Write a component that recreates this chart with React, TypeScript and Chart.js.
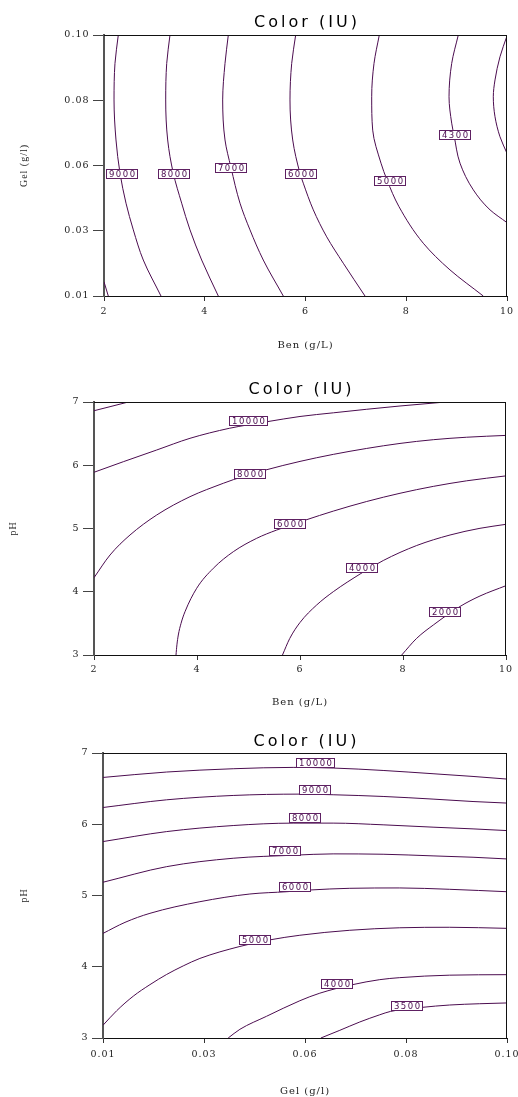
import React, { useEffect, useRef } from 'react';
import { Chart, registerables } from 'chart.js';

Chart.register(...registerables);

// ---------------- shared text ----------------
const TITLE = 'Color (IU)';
const LINE_COLOR = '#4b0c4f';
const LABEL_BORDER = '#5e2062';

// ---------------- Panel 1: Ben (g/L) x Gel (g/l) ----------------
const P1_X_TICKS = [2, 4, 6, 8, 10];
const P1_X_TICK_LABELS = ['2', '4', '6', '8', '10'];
const P1_Y_TICKS = [0.01, 0.0325, 0.055, 0.0775, 0.1];
const P1_Y_TICK_LABELS = ['0.01', '0.03', '0.06', '0.08', '0.10'];

const P1_C10000_X = [2.0, 2.085];
const P1_C10000_Y = [0.0149, 0.01];
const P1_C9000_X = [2.284, 2.218, 2.199, 2.238, 2.318, 2.437, 2.582, 2.78, 3.131];
const P1_C9000_Y = [0.1, 0.0902, 0.0776, 0.0638, 0.0523, 0.042, 0.0328, 0.0224, 0.01];
const P1_C8000_X = [3.31, 3.245, 3.225, 3.264, 3.376, 3.542, 3.707, 3.939, 4.269];
const P1_C8000_Y = [0.1, 0.0902, 0.0776, 0.0638, 0.0523, 0.042, 0.0328, 0.0224, 0.01];
const P1_C7000_X = [4.468, 4.402, 4.356, 4.402, 4.521, 4.7, 4.898, 5.162, 5.559];
const P1_C7000_Y = [0.1, 0.0902, 0.0776, 0.0638, 0.0543, 0.042, 0.0328, 0.0224, 0.01];
const P1_C6000_X = [5.805, 5.726, 5.692, 5.746, 5.891, 5.956, 6.155, 6.421, 6.75, 7.181];
const P1_C6000_Y = [0.1, 0.0902, 0.0776, 0.0638, 0.0523, 0.0489, 0.0397, 0.0304, 0.0213, 0.01];
const P1_C5000_X = [7.465, 7.36, 7.314, 7.334, 7.499, 7.618, 7.856, 8.338, 8.868, 9.529];
const P1_C5000_Y = [0.1, 0.0902, 0.0787, 0.0672, 0.0558, 0.05, 0.0408, 0.0282, 0.019, 0.01];
const P1_C4300_X = [9.033, 8.902, 8.849, 8.902, 8.948, 9.067, 9.331, 9.663, 10.0];
const P1_C4300_Y = [0.1, 0.0902, 0.0787, 0.0696, 0.0655, 0.0558, 0.0466, 0.0397, 0.0353];
const P1_C4000_X = [10.0, 9.861, 9.762, 9.728, 9.762, 9.861, 10.0];
const P1_C4000_Y = [0.0997, 0.0925, 0.0845, 0.0787, 0.0718, 0.0649, 0.0592];

const P1_LABEL_TEXT = ['9000', '8000', '7000', '6000', '5000', '4300'];
const P1_LABEL_X = [2.343, 3.376, 4.517, 5.907, 7.664, 8.954];
const P1_LABEL_Y = [0.0521, 0.0521, 0.0543, 0.0521, 0.0499, 0.0656];

// ---------------- Panel 2: Ben (g/L) x pH ----------------
const P2_X_TICKS = [2, 4, 6, 8, 10];
const P2_X_TICK_LABELS = ['2', '4', '6', '8', '10'];
const P2_Y_TICKS = [3, 4, 5, 6, 7];
const P2_Y_TICK_LABELS = ['3', '4', '5', '6', '7'];

const P2_C12000_X = [2.0, 2.311, 2.666];
const P2_C12000_Y = [6.862, 6.926, 7.0];
const P2_C10000_X = [2.0, 2.569, 3.217, 3.864, 4.627, 4.999, 5.372, 6.0, 6.647, 7.295, 7.942, 8.757];
const P2_C10000_Y = [5.889, 6.056, 6.241, 6.426, 6.584, 6.64, 6.69, 6.771, 6.829, 6.885, 6.937, 6.995];
const P2_C8000_X = [2.0, 2.311, 2.699, 3.217, 3.864, 4.511, 4.705, 5.334, 6.0, 6.647, 7.295, 7.942, 8.588, 9.237, 10.0];
const P2_C8000_Y = [4.222, 4.581, 4.897, 5.213, 5.503, 5.715, 5.772, 5.925, 6.061, 6.172, 6.266, 6.345, 6.404, 6.443, 6.472];
const P2_C6000_X = [3.592, 3.61, 3.637, 3.69, 3.767, 3.994, 4.317, 4.705, 5.159, 5.548, 6.111, 6.647, 7.295, 7.942, 8.588, 9.237, 10.0];
const P2_C6000_Y = [3.0, 3.16, 3.316, 3.5, 3.685, 4.055, 4.371, 4.633, 4.845, 4.976, 5.134, 5.275, 5.427, 5.557, 5.666, 5.754, 5.832];
const P2_C4000_X = [5.66, 5.8, 6.0, 6.324, 6.647, 7.184, 7.617, 8.266, 8.913, 9.495, 10.0];
const P2_C4000_Y = [3.0, 3.26, 3.514, 3.791, 4.001, 4.289, 4.494, 4.731, 4.897, 5.003, 5.066];
const P2_C2000_X = [7.975, 8.266, 8.588, 9.107, 9.495, 10.0];
const P2_C2000_Y = [3.0, 3.264, 3.474, 3.767, 3.933, 4.096];

const P2_LABEL_TEXT = ['10000', '8000', '6000', '4000', '2000'];
const P2_LABEL_X = [4.994, 5.019, 5.79, 7.2, 8.8];
const P2_LABEL_Y = [6.7, 5.873, 5.074, 4.379, 3.692];

// ---------------- Panel 3: Gel (g/l) x pH ----------------
const P3_X_TICKS = [0.01, 0.0325, 0.055, 0.0775, 0.1];
const P3_X_TICK_LABELS = ['0.01', '0.03', '0.06', '0.08', '0.10'];
const P3_Y_TICKS = [3, 4, 5, 6, 7];
const P3_Y_TICK_LABELS = ['3', '4', '5', '6', '7'];

const P3_C10000_X = [0.01, 0.02418, 0.039, 0.05236, 0.06127, 0.0724, 0.08352, 0.09243, 0.1];
const P3_C10000_Y = [6.657, 6.733, 6.779, 6.798, 6.789, 6.755, 6.709, 6.671, 6.634];
const P3_C9000_X = [0.01, 0.02418, 0.039, 0.05385, 0.06127, 0.0724, 0.08352, 0.09243, 0.1];
const P3_C9000_Y = [6.235, 6.343, 6.404, 6.423, 6.414, 6.39, 6.353, 6.319, 6.297];
const P3_C8000_X = [0.01, 0.02418, 0.039, 0.05236, 0.06127, 0.0724, 0.08352, 0.09243, 0.1];
const P3_C8000_Y = [5.757, 5.897, 5.982, 6.016, 6.016, 5.992, 5.959, 5.935, 5.911];
const P3_C7000_X = [0.01, 0.02418, 0.039, 0.05236, 0.06127, 0.0724, 0.08352, 0.09243, 0.1];
const P3_C7000_Y = [5.186, 5.405, 5.523, 5.565, 5.584, 5.579, 5.556, 5.537, 5.513];
const P3_C6000_X = [0.01, 0.0149, 0.02046, 0.03159, 0.04272, 0.05089, 0.05608, 0.06498, 0.07611, 0.08724, 0.1];
const P3_C6000_Y = [4.468, 4.623, 4.75, 4.913, 5.021, 5.053, 5.077, 5.101, 5.106, 5.087, 5.053];
const P3_C5000_X = [0.01, 0.01305, 0.01674, 0.02046, 0.02418, 0.02787, 0.03159, 0.0405, 0.04717, 0.05385, 0.06498, 0.07611, 0.08724, 0.1];
const P3_C5000_Y = [3.179, 3.383, 3.587, 3.749, 3.892, 4.012, 4.117, 4.285, 4.377, 4.442, 4.512, 4.547, 4.554, 4.539];
const P3_C4000_X = [0.03789, 0.0405, 0.04644, 0.05385, 0.0583, 0.06554, 0.07166, 0.07611, 0.08724, 0.1];
const P3_C4000_Y = [3.0, 3.122, 3.305, 3.523, 3.629, 3.748, 3.819, 3.847, 3.882, 3.889];
const P3_C3500_X = [0.05853, 0.06276, 0.06721, 0.07166, 0.07404, 0.08094, 0.08724, 0.09392, 0.1];
const P3_C3500_Y = [3.0, 3.108, 3.225, 3.326, 3.373, 3.429, 3.463, 3.481, 3.492];

const P3_LABEL_TEXT = ['10000', '9000', '8000', '7000', '6000', '5000', '4000', '3500'];
const P3_LABEL_X = [0.05712, 0.0572, 0.05497, 0.05036, 0.05267, 0.04368, 0.06209, 0.0775];
const P3_LABEL_Y = [6.864, 6.491, 6.09, 5.636, 5.12, 4.378, 3.769, 3.456];

// ---------------- fonts ----------------
const TICK_FONT = { family: "'DejaVu Serif', serif", size: 9.5 };
const XTITLE_FONT = { family: "'DejaVu Serif', serif", size: 10 };
const YTITLE_FONT = { family: "'Liberation Serif', serif", size: 10 };
const TITLE_FONT = "16px 'DejaVu Sans', sans-serif";
const LABEL_FONT = "8.5px 'DejaVu Sans', sans-serif";

type Contour = { x: number[]; y: number[] };
type Panel = {
  top: number;
  height: number;
  area: { left: number; right: number; top: number; bottom: number };
  indexAxis: 'x' | 'y';
  titleY: number;
  xTitle: string;
  yTitle: string;
  xRange: [number, number];
  yRange: [number, number];
  xTicks: number[];
  xTickLabels: string[];
  yTicks: number[];
  yTickLabels: string[];
  contours: Contour[];
  labelText: string[];
  labelX: number[];
  labelY: number[];
  yTitlePad: number;
  xTitlePad: number;
  xTickPad: number;
};

const PANELS: Panel[] = [
  {
    top: 0,
    height: 355,
    area: { left: 104, right: 507, top: 35, bottom: 296 },
    indexAxis: 'y',
    titleY: 23,
    xTitle: 'Ben (g/L)',
    yTitle: 'Gel (g/l)',
    xRange: [2, 10],
    yRange: [0.01, 0.1],
    xTicks: P1_X_TICKS,
    xTickLabels: P1_X_TICK_LABELS,
    yTicks: P1_Y_TICKS,
    yTickLabels: P1_Y_TICK_LABELS,
    contours: [
      { x: P1_C10000_X, y: P1_C10000_Y },
      { x: P1_C9000_X, y: P1_C9000_Y },
      { x: P1_C8000_X, y: P1_C8000_Y },
      { x: P1_C7000_X, y: P1_C7000_Y },
      { x: P1_C6000_X, y: P1_C6000_Y },
      { x: P1_C5000_X, y: P1_C5000_Y },
      { x: P1_C4300_X, y: P1_C4300_Y },
      { x: P1_C4000_X, y: P1_C4000_Y },
    ],
    labelText: P1_LABEL_TEXT,
    labelX: P1_LABEL_X,
    labelY: P1_LABEL_Y,
    yTitlePad: 18,
    xTitlePad: 4,
    xTickPad: 5,
  },
  {
    top: 355,
    height: 360,
    area: { left: 94, right: 506, top: 47, bottom: 300 },
    indexAxis: 'x',
    titleY: 35,
    xTitle: 'Ben (g/L)',
    yTitle: 'pH',
    xRange: [2, 10],
    yRange: [3, 7],
    xTicks: P2_X_TICKS,
    xTickLabels: P2_X_TICK_LABELS,
    yTicks: P2_Y_TICKS,
    yTickLabels: P2_Y_TICK_LABELS,
    contours: [
      { x: P2_C12000_X, y: P2_C12000_Y },
      { x: P2_C10000_X, y: P2_C10000_Y },
      { x: P2_C8000_X, y: P2_C8000_Y },
      { x: P2_C6000_X, y: P2_C6000_Y },
      { x: P2_C4000_X, y: P2_C4000_Y },
      { x: P2_C2000_X, y: P2_C2000_Y },
    ],
    labelText: P2_LABEL_TEXT,
    labelX: P2_LABEL_X,
    labelY: P2_LABEL_Y,
    yTitlePad: 7,
    xTitlePad: 7,
    xTickPad: 4,
  },
  {
    top: 715,
    height: 382,
    area: { left: 103, right: 507, top: 38, bottom: 323 },
    indexAxis: 'x',
    titleY: 27,
    xTitle: 'Gel (g/l)',
    yTitle: 'pH',
    xRange: [0.01, 0.1],
    yRange: [3, 7],
    xTicks: P3_X_TICKS,
    xTickLabels: P3_X_TICK_LABELS,
    yTicks: P3_Y_TICKS,
    yTickLabels: P3_Y_TICK_LABELS,
    contours: [
      { x: P3_C10000_X, y: P3_C10000_Y },
      { x: P3_C9000_X, y: P3_C9000_Y },
      { x: P3_C8000_X, y: P3_C8000_Y },
      { x: P3_C7000_X, y: P3_C7000_Y },
      { x: P3_C6000_X, y: P3_C6000_Y },
      { x: P3_C5000_X, y: P3_C5000_Y },
      { x: P3_C4000_X, y: P3_C4000_Y },
      { x: P3_C3500_X, y: P3_C3500_Y },
    ],
    labelText: P3_LABEL_TEXT,
    labelX: P3_LABEL_X,
    labelY: P3_LABEL_Y,
    yTitlePad: 18,
    xTitlePad: 0,
    xTickPad: 6,
  },
];

const W = 518;

function ContourPanel({ p }: { p: Panel }) {
  const ref = useRef<HTMLCanvasElement>(null);

  useEffect(() => {
    const canvas = ref.current;
    if (!canvas) return;

    const overlay = {
      id: 'overlay',
      beforeDraw(chart: any) {
        (chart.ctx as any).letterSpacing = '1px';
      },
      afterDatasetsDraw(chart: any) {
        const { ctx, scales } = chart;
        ctx.save();
        ctx.font = LABEL_FONT;
        (ctx as any).letterSpacing = '1.5px';
        ctx.textAlign = 'center';
        ctx.textBaseline = 'middle';
        p.labelText.forEach((t, i) => {
          const cx = scales.x.getPixelForValue(p.labelX[i]);
          const cy = scales.y.getPixelForValue(p.labelY[i]);
          const w = Math.round(ctx.measureText(t).width + 3);
          const h = 9;
          const bx = Math.round(cx - w / 2);
          const by = Math.round(cy - h / 2);
          ctx.fillStyle = '#ffffff';
          ctx.fillRect(bx, by, w, h);
          ctx.strokeStyle = LABEL_BORDER;
          ctx.lineWidth = 1;
          ctx.strokeRect(bx + 0.5, by + 0.5, w, h);
          ctx.fillStyle = LINE_COLOR;
          ctx.fillText(t, bx + w / 2 + 1.25, by + h / 2 + 1);
        });
        ctx.restore();
      },
      afterDraw(chart: any) {
        const { ctx, chartArea: a } = chart;
        ctx.save();
        ctx.strokeStyle = '#111';
        ctx.lineWidth = 1;
        ctx.beginPath();
        ctx.moveTo(a.left, a.top + 0.5);
        ctx.lineTo(a.right, a.top + 0.5);
        ctx.moveTo(a.right - 0.5, a.top);
        ctx.lineTo(a.right - 0.5, a.bottom);
        ctx.stroke();
        ctx.font = TITLE_FONT;
        (ctx as any).letterSpacing = '3px';
        ctx.fillStyle = '#000';
        ctx.textAlign = 'center';
        ctx.textBaseline = 'middle';
        ctx.fillText(TITLE, (a.left + a.right) / 2 + 1.5, p.titleY);
        ctx.restore();
      },
    };

    const chart = new Chart(canvas, {
      type: 'line',
      data: {
        datasets: p.contours.map((c) => ({
          data: c.x.map((x, i) => ({ x, y: c.y[i] })),
          borderColor: LINE_COLOR,
          borderWidth: 1,
          pointRadius: 0,
          pointHoverRadius: 0,
          cubicInterpolationMode: 'monotone',
          fill: false,
        })),
      },
      options: {
        animation: false,
        responsive: false,
        devicePixelRatio: 1,
        indexAxis: p.indexAxis,
        events: [],
        layout: {
          padding: { left: 0, right: W - p.area.right, top: p.area.top, bottom: 0 },
        },
        plugins: {
          legend: { display: false },
          tooltip: { enabled: false },
          title: { display: false },
        },
        scales: {
          x: {
            type: 'linear',
            axis: 'x',
            position: 'bottom',
            min: p.xRange[0],
            max: p.xRange[1],
            afterBuildTicks: (s: any) => {
              s.ticks = p.xTicks.map((v) => ({ value: v }));
            },
            afterFit: (s: any) => {
              s.height = p.height - p.area.bottom;
              s.paddingLeft = 0;
              s.paddingRight = 0;
            },
            grid: { drawOnChartArea: false, drawTicks: true, tickLength: 5, color: '#333', lineWidth: 1 },
            border: { display: true, color: '#111', width: 1 },
            ticks: {
              autoSkip: false,
              maxRotation: 0,
              padding: p.xTickPad,
              color: '#222',
              font: TICK_FONT,
              callback: (_v: any, i: number) => p.xTickLabels[i] ?? '',
            },
            title: {
              display: true,
              text: p.xTitle,
              color: '#222',
              font: XTITLE_FONT,
              padding: { top: 0, bottom: p.xTitlePad },
            },
          },
          y: {
            type: 'linear',
            axis: 'y',
            position: 'left',
            min: p.yRange[0],
            max: p.yRange[1],
            afterBuildTicks: (s: any) => {
              s.ticks = p.yTicks.map((v) => ({ value: v }));
            },
            afterFit: (s: any) => {
              s.width = p.area.left;
              s.paddingTop = 0;
              s.paddingBottom = 0;
            },
            grid: { drawOnChartArea: false, drawTicks: true, tickLength: 11, color: '#444', lineWidth: 1 },
            border: { display: true, color: '#555', width: 2 },
            ticks: {
              autoSkip: false,
              padding: 3.5,
              color: '#222',
              font: TICK_FONT,
              callback: (_v: any, i: number) => p.yTickLabels[i] ?? '',
            },
            title: {
              display: true,
              text: p.yTitle,
              color: '#222',
              font: YTITLE_FONT,
              padding: { top: p.yTitlePad, bottom: 0 },
            },
          },
        },
      } as any,
      plugins: [overlay],
    });

    return () => chart.destroy();
  }, [p]);

  return (
    <canvas
      ref={ref}
      width={W}
      height={p.height}
      style={{ position: 'absolute', left: 0, top: p.top, display: 'block', width: W, height: p.height }}
    />
  );
}

export default function App() {
  return (
    <div style={{ position: 'absolute', left: 0, top: 0, width: W, height: 1097, background: '#ffffff' }}>
      {PANELS.map((p, i) => (
        <ContourPanel key={i} p={p} />
      ))}
    </div>
  );
}
